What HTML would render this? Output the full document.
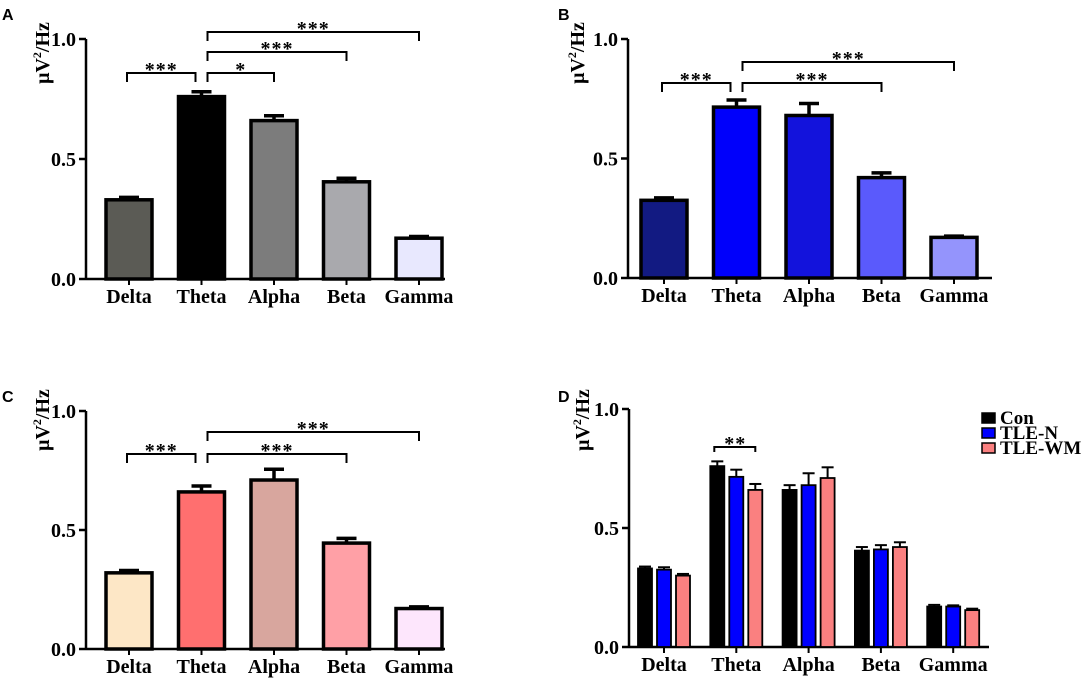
<!DOCTYPE html>
<html><head><meta charset="utf-8"><style>
html,body{margin:0;padding:0;background:#fff;}
svg{display:block;font-family:"Liberation Serif",serif;}
.pl{font-family:"Liberation Sans",sans-serif;font-weight:bold;font-size:16px;}
</style></head><body>
<svg id="fig" width="1084" height="678" viewBox="0 0 1084 678" xmlns="http://www.w3.org/2000/svg"></svg>
<script>
const categories = ["Delta","Theta","Alpha","Beta","Gamma"];
const aValues = [0.33,0.76,0.66,0.405,0.17];
const aErrors = [0.01,0.02,0.02,0.015,0.007];
const bValues = [0.325,0.715,0.68,0.42,0.17];
const bErrors = [0.01,0.03,0.05,0.02,0.005];
const cValues = [0.32,0.66,0.71,0.445,0.17];
const cErrors = [0.01,0.025,0.045,0.02,0.007];
const dSeries = ["Con","TLE-N","TLE-WM"];
const dCon = [0.33,0.76,0.66,0.405,0.17];
const dConErr = [0.008,0.02,0.02,0.015,0.007];
const dN = [0.325,0.715,0.68,0.41,0.17];
const dNErr = [0.01,0.03,0.05,0.018,0.005];
const dWM = [0.30,0.66,0.71,0.42,0.155];
const dWMErr = [0.007,0.025,0.045,0.02,0.006];
const yTicks = [0.0,0.5,1.0];
const yTickLabels = ["0.0","0.5","1.0"];

const NS="http://www.w3.org/2000/svg";
const svg=document.getElementById('fig');
function mk(tag,attrs,parent){const e=document.createElementNS(NS,tag);for(const k in attrs)e.setAttribute(k,attrs[k]);(parent||svg).appendChild(e);return e;}

function axes(g,ox,y0,y1,xEnd,xs,lx,ly){
  const ys=v=>y0-(y0-y1)*v;
  const a=mk('line',{x1:ox,y1:ys(1),x2:ox,y2:y0,stroke:'#000','stroke-width':2.5},g);
  
  
  const b=mk('line',{x1:ox,y1:y0,x2:xEnd,y2:y0,stroke:'#000','stroke-width':2.5},g);
  
  
  yTicks.forEach((t,i)=>{
    mk('line',{x1:ox-7,y1:ys(t),x2:ox,y2:ys(t),stroke:'#000','stroke-width':2.5},g);
    const tx=mk('text',{x:ox-10,y:ys(t)+7,'text-anchor':'end','font-size':20,'font-weight':'bold'},g);
    tx.textContent=yTickLabels[i];
    
    
  });
  categories.forEach((c,i)=>{
    mk('line',{x1:xs(i),y1:y0,x2:xs(i),y2:y0+6,stroke:'#000','stroke-width':2},g);
    const tx=mk('text',{x:xs(i),y:y0+24,'text-anchor':'middle','font-size':20,'font-weight':'bold'},g);
    tx.textContent=c;
    
    
  });
  const yl=mk('text',{x:lx,y:ly,'text-anchor':'middle','font-size':20,'font-weight':'bold',transform:`rotate(-90 ${lx} ${ly})`},g);
  yl.innerHTML='μV<tspan dy="-8" font-size="12">2</tspan><tspan dy="8">/Hz</tspan>';
  
  
  return ys;
}
function errbar(g,x,ys,v,e,cap,w){
  mk('line',{x1:x,y1:ys(v),x2:x,y2:ys(v+e),stroke:'#000','stroke-width':w},g);
  const c=mk('line',{x1:x-cap/2,y1:ys(v+e),x2:x+cap/2,y2:ys(v+e),stroke:'#000','stroke-width':w},g);
  
  
}
function bracket(g,x1,x2,y,label){
  const p=mk('path',{d:`M${x1} ${y+9}V${y}H${x2}V${y+9}`,fill:'none',stroke:'#000','stroke-width':2},g);
  
  
  const t=mk('text',{x:(x1+x2)/2,y:y+3,'text-anchor':'middle','font-size':20,'font-weight':'bold','letter-spacing':'1'},g);
  t.textContent=label;
  
  
}
function panel(name,letter,lxL,lyL,ox,y0,y1,xEnd,c0,vals,errs,colors,brackets,lx,ly){
  const g=mk('g',{});
  
  
  const L=mk('text',{x:lxL,y:lyL,class:'pl'},g);L.textContent=letter;
  
  
  const xs=i=>c0+72.5*i;
  const ys=axes(g,ox,y0,y1,xEnd,xs,lx,ly);
  vals.forEach((v,i)=>{
    const r=mk('rect',{x:xs(i)-23,y:ys(v),width:46,height:y0-ys(v),fill:colors[i],stroke:'#000','stroke-width':3.5},g);
    
    
    errbar(g,xs(i),ys,v,errs[i],20,3.5);
  });
  brackets.forEach(b=>{
    bracket(g,b[0]===1?xs(1)+6:xs(b[0])-2,b[1]===1?xs(1)-6:xs(b[1]),b[2],b[3]);
  });
}
panel('panel-a','A',2,20,86,279,39,445,129,aValues,aErrors,
  ['#5b5b55','#000000','#7c7c7c','#a9a9ad','#e8e8fe'],
  [[0,1,73,'***'],[1,2,73,'*'],[1,3,52,'***'],[1,4,32,'***']],49,53);
panel('panel-b','B',558,20,628,278,39,992,664,bValues,bErrors,
  ['#121a82','#0000fb','#1313dc','#5a5afc','#9494fc'],
  [[0,1,83,'***'],[1,3,83,'***'],[1,4,62,'***']],584,53);
panel('panel-c','C',2,402,86,649,411,445,129,cValues,cErrors,
  ['#fde7c6','#ff6f6f','#d8a69e','#ffa0a6','#fde6fc'],
  [[0,1,454,'***'],[1,3,454,'***'],[1,4,432,'***']],49,420);

// Panel D
(function(){
  const g=mk('g',{});
  
  
  const L=mk('text',{x:558,y:402,class:'pl'},g);L.textContent='D';
  
  
  const xs=i=>664+72.3*i;
  const ys=axes(g,629,647,409,989,xs,589,420);
  const series=[dCon,dN,dWM], errs=[dConErr,dNErr,dWMErr], cols=['#000000','#0000ff','#fa8080'];
  series.forEach((s,k)=>{
    s.forEach((v,i)=>{
      const x=xs(i)+(k-1)*19;
      const r=mk('rect',{x:x-7,y:ys(v),width:14,height:647-ys(v),fill:cols[k],stroke:'#000','stroke-width':1.8},g);
      
      
      errbar(g,x,ys,v,errs[k][i],12,2);
    });
  });
  const p=mk('path',{d:`M${xs(1)-22} 452V447H${xs(1)+19}V452`,fill:'none',stroke:'#000','stroke-width':2},g);
  
  
  const t=mk('text',{x:xs(1)-1,y:450,'text-anchor':'middle','font-size':20,'font-weight':'bold','letter-spacing':'1'},g);
  t.textContent='**';
  
  
  dSeries.forEach((s,k)=>{
    const le=mk('g',{},g);
    
    
    mk('rect',{x:982,y:413+k*15,width:13,height:10,fill:cols[k],stroke:'#000','stroke-width':1.5},le);
    const tx=mk('text',{x:1000,y:424+k*15,'font-size':19,'font-weight':'bold'},le);
    tx.textContent=s;
  });
})();
</script>
</body></html>
